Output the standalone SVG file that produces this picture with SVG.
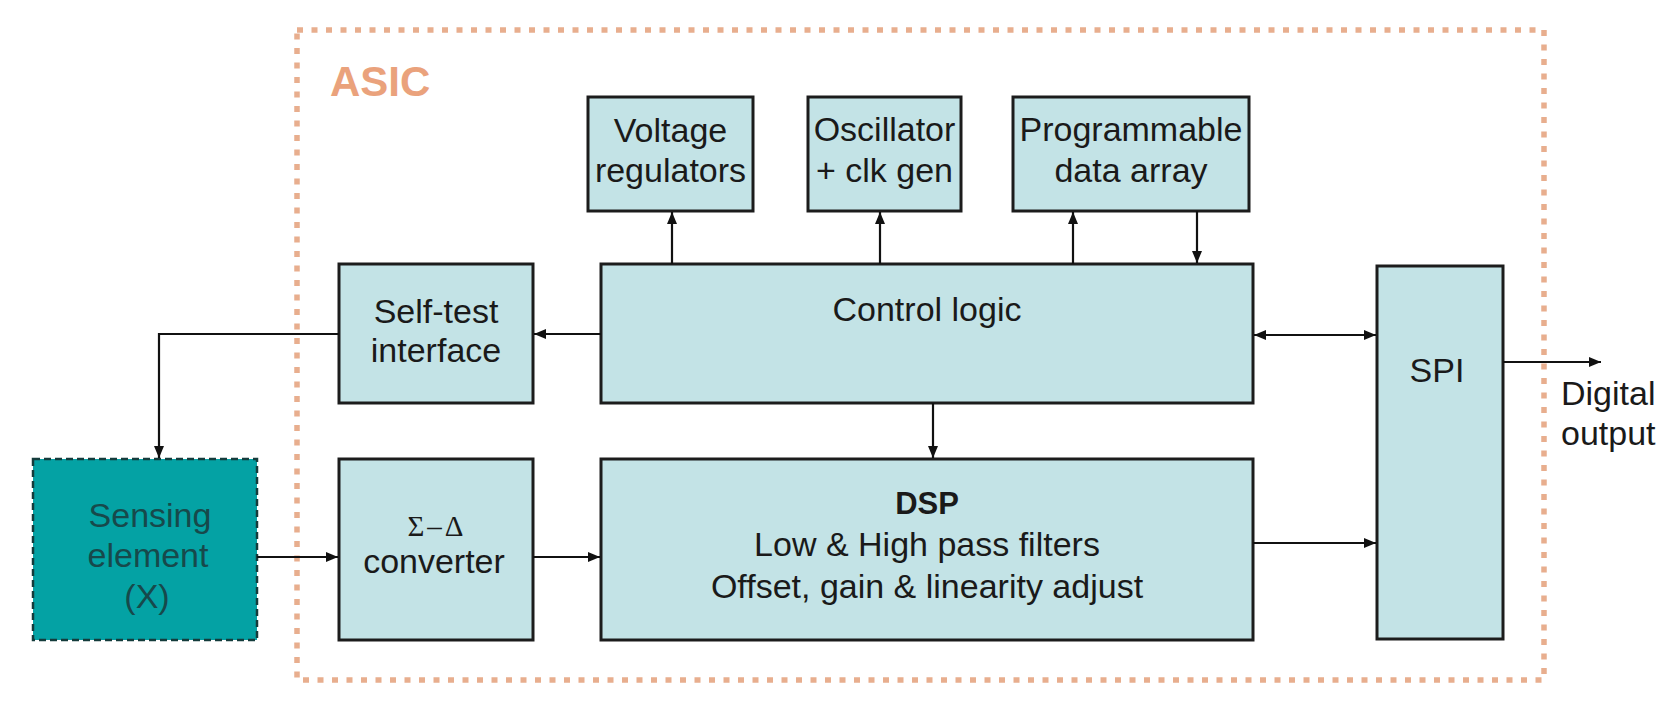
<svg xmlns="http://www.w3.org/2000/svg" width="1668" height="703" viewBox="0 0 1668 703">
  <style>
    .blk { fill: #c3e3e6; stroke: #1c1c1c; stroke-width: 3; }
    .sense { fill: #04a2a4; stroke: #143c3c; stroke-width: 2.5; stroke-dasharray: 7 4; }
    .lbl { font-family: "Liberation Sans", Arial, sans-serif; font-size: 34px; fill: #1a1a1a; text-anchor: middle; }
    .lbl-l { font-family: "Liberation Sans", Arial, sans-serif; font-size: 34px; fill: #1a1a1a; }
    .bold { font-weight: bold; font-size: 31px; }
    .sym { font-family: "Liberation Serif", "Times New Roman", serif; font-size: 29px; fill: #1a1a1a; text-anchor: middle; letter-spacing: 3px; }
    .sense-t { font-family: "Liberation Sans", Arial, sans-serif; font-size: 34px; fill: #17494b; text-anchor: middle; }
    .wire { fill: none; stroke: #111; stroke-width: 2.2; }
    .asic { fill: none; stroke: #e8ae8e; stroke-width: 5.5; stroke-dasharray: 6 8.5; }
    .asic-t { font-family: "Liberation Sans", Arial, sans-serif; font-size: 42px; font-weight: bold; fill: #eaa27c; }
  </style>
  <defs>
    <marker id="arr" viewBox="0 0 12 10" refX="12" refY="5" markerWidth="12" markerHeight="10" markerUnits="userSpaceOnUse" orient="auto-start-reverse">
      <path d="M0,0 L12,5 L0,10 z" fill="#111"/>
    </marker>
  </defs>

  <rect width="1668" height="703" fill="#ffffff"/>

  <!-- ASIC boundary -->
  <g id="asic">
    <rect class="asic" x="297" y="30" width="1247" height="650"/>
    <text class="asic-t" x="330" y="96">ASIC</text>
  </g>

  <!-- blocks -->
  <g id="voltage-regulators">
    <rect class="blk" x="588" y="97" width="165" height="114"/>
    <text class="lbl" x="670.5" y="142">Voltage</text>
    <text class="lbl" x="670.5" y="182">regulators</text>
  </g>
  <g id="oscillator">
    <rect class="blk" x="808" y="97" width="153" height="114"/>
    <text class="lbl" x="884.5" y="141">Oscillator</text>
    <text class="lbl" x="884.5" y="182">+ clk gen</text>
  </g>
  <g id="programmable-data-array">
    <rect class="blk" x="1013" y="97" width="236" height="114"/>
    <text class="lbl" x="1131" y="141">Programmable</text>
    <text class="lbl" x="1131" y="182">data array</text>
  </g>
  <g id="self-test">
    <rect class="blk" x="339" y="264" width="194" height="139"/>
    <text class="lbl" x="436" y="323">Self-test</text>
    <text class="lbl" x="436" y="362">interface</text>
  </g>
  <g id="control-logic">
    <rect class="blk" x="601" y="264" width="652" height="139"/>
    <text class="lbl" x="927" y="321">Control logic</text>
  </g>
  <g id="spi">
    <rect class="blk" x="1377" y="266" width="126" height="373"/>
    <text class="lbl" x="1437" y="382">SPI</text>
  </g>
  <g id="sensing-element">
    <rect class="sense" x="33" y="459" width="224" height="181"/>
    <text class="sense-t" x="150" y="527">Sensing</text>
    <text class="sense-t" x="148" y="567">element</text>
    <text class="sense-t" x="147" y="608">(X)</text>
  </g>
  <g id="converter">
    <rect class="blk" x="339" y="459" width="194" height="181"/>
    <text class="sym" x="437" y="536">Σ–Δ</text>
    <text class="lbl" x="434" y="573">converter</text>
  </g>
  <g id="dsp">
    <rect class="blk" x="601" y="459" width="652" height="181"/>
    <text class="lbl bold" x="927" y="514">DSP</text>
    <text class="lbl" x="927" y="556">Low &amp; High pass filters</text>
    <text class="lbl" x="927" y="598">Offset, gain &amp; linearity adjust</text>
  </g>
  <g id="digital-output">
    <text class="lbl-l" x="1561" y="405">Digital</text>
    <text class="lbl-l" x="1561" y="445">output</text>
  </g>

  <!-- connectors -->
  <g id="connectors">
    <line class="wire" x1="672" y1="264" x2="672" y2="212" marker-end="url(#arr)"/>
    <line class="wire" x1="880" y1="264" x2="880" y2="212" marker-end="url(#arr)"/>
    <line class="wire" x1="1073" y1="264" x2="1073" y2="212" marker-end="url(#arr)"/>
    <line class="wire" x1="1197" y1="211" x2="1197" y2="263" marker-end="url(#arr)"/>
    <line class="wire" x1="601" y1="334" x2="534" y2="334" marker-end="url(#arr)"/>
    <polyline class="wire" points="339,334 159,334 159,458" marker-end="url(#arr)"/>
    <line class="wire" x1="257" y1="557" x2="338" y2="557" marker-end="url(#arr)"/>
    <line class="wire" x1="533" y1="557" x2="600" y2="557" marker-end="url(#arr)"/>
    <line class="wire" x1="933" y1="403" x2="933" y2="458" marker-end="url(#arr)"/>
    <line class="wire" x1="1254" y1="335" x2="1376" y2="335" marker-start="url(#arr)" marker-end="url(#arr)"/>
    <line class="wire" x1="1253" y1="543" x2="1376" y2="543" marker-end="url(#arr)"/>
    <line class="wire" x1="1503" y1="362" x2="1601" y2="362" marker-end="url(#arr)"/>
  </g>
</svg>
